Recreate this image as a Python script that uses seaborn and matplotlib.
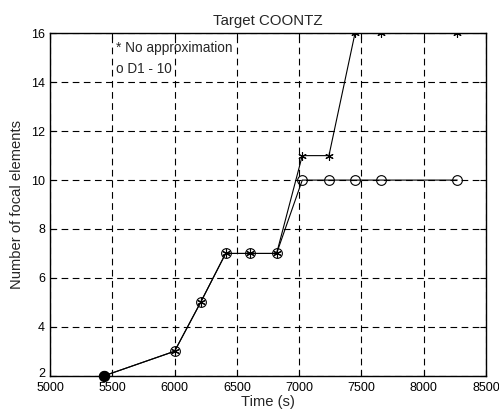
import matplotlib
matplotlib.use("Agg")
import matplotlib.pyplot as plt
import matplotlib.transforms as mtransforms
import seaborn as sns
import numpy as np

# Data
time_star = [5436, 6000, 6209, 6410, 6607, 6819, 7025, 7239, 7448, 7657, 8269]
count_star = [2, 3, 5, 7, 7, 7, 11, 11, 16, 16, 16]
time_circ = [5436, 6000, 6209, 6410, 6607, 6819, 7025, 7239, 7448, 7657, 8269]
count_circ = [2, 3, 5, 7, 7, 7, 10, 10, 10, 10, 10]
xticks = [5000, 5500, 6000, 6500, 7000, 7500, 8000, 8500]
yticks = [2, 4, 6, 8, 10, 12, 14, 16]

sns.set_style("ticks")
plt.rcParams['font.family'] = ['Liberation Sans', 'DejaVu Sans']

fig = plt.figure(figsize=(4.99, 4.17), dpi=100)
ax = fig.add_axes([0.1002, 0.099, 0.8738, 0.821])

sns.lineplot(x=time_star, y=count_star, ax=ax, color='k', lw=0.8,
             marker=(6, 2, 0), markersize=6, markeredgecolor='k',
             markeredgewidth=0.8, sort=False, estimator=None)
sns.lineplot(x=time_circ, y=count_circ, ax=ax, color='k', lw=0.8,
             marker='o', markersize=7, markerfacecolor='none',
             markeredgecolor='k', markeredgewidth=0.8, sort=False, estimator=None)
# filled start point (overlapping markers in reference)
ax.plot(time_circ[:1], count_circ[:1], 'o', color='k', markersize=7.2, clip_on=False, zorder=5)

ax.set_xlim(5000, 8500)
ax.set_ylim(2, 16)
ax.set_xticks(xticks)
ax.set_yticks(yticks)
ax.set_xticklabels([str(t) for t in xticks])
ax.set_yticklabels([str(t) for t in yticks])
ax.grid(True, color='k', linestyle=(0, (6, 4)), linewidth=0.8)
for s in ax.spines.values():
    s.set_visible(True)
    s.set_linewidth(1.0)
    s.set_color('k')
ax.tick_params(direction='in', length=4, width=0.8, top=True, right=True,
               labelsize=9, colors='k', pad=3.5)
ax.tick_params(axis='x', pad=4.5)

# lift the lowest y tick label slightly so it clears the x tick labels
lab0 = ax.get_yticklabels()[0]
lab0.set_transform(lab0.get_transform() +
                   mtransforms.ScaledTranslation(0, 2.5 / 72, fig.dpi_scale_trans))

ax.set_title('Target COONTZ', fontsize=10.8, pad=6)
ax.set_xlabel('Time (s)', fontsize=10.6, labelpad=1)
ax.set_ylabel('Number of focal elements', fontsize=10.6, labelpad=5)

ax.text(5530, 15.4, '* No approximation', fontsize=9.8, va='center', ha='left')
ax.text(5530, 14.55, 'o D1 - 10', fontsize=9.8, va='center', ha='left')

fig.savefig('out.png', dpi=100)
